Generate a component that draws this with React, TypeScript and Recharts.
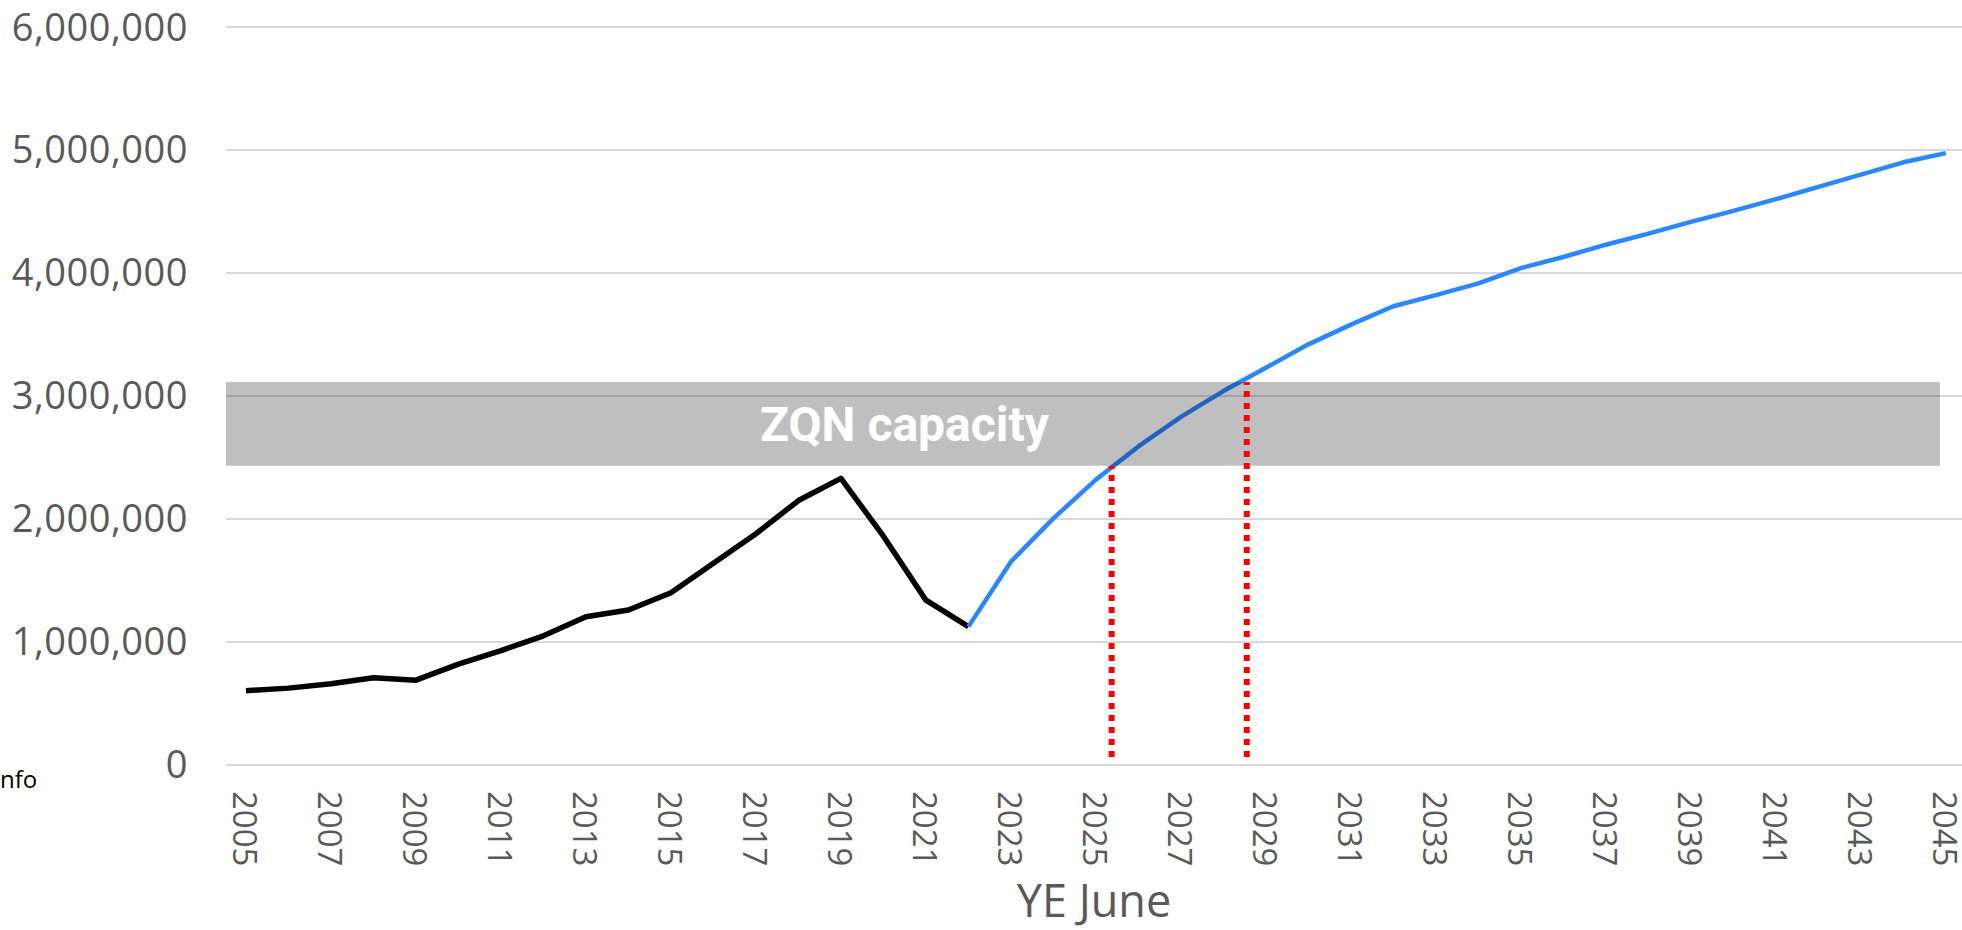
import { LineChart, Line, XAxis, YAxis, CartesianGrid, ReferenceArea, ReferenceLine } from 'recharts'

const years = [
  2005, 2006, 2007, 2008, 2009, 2010, 2011, 2012, 2013, 2014, 2015, 2016, 2017, 2018,
  2019, 2020, 2021, 2022, 2023, 2024, 2025, 2026, 2027, 2028, 2029, 2030, 2031, 2032,
  2033, 2034, 2035, 2036, 2037, 2038, 2039, 2040, 2041, 2042, 2043, 2044, 2045,
]

// 2005 - 2022
const actual = [
  604000, 625000, 660000, 710000, 690000, 820000, 930000, 1050000, 1205000, 1260000,
  1400000, 1640000, 1880000, 2150000, 2330000, 1860000, 1340000, 1125000,
]

// 2022 - 2045
const forecast = [
  1125000, 1653000, 2005000, 2320000, 2590000, 2830000, 3040000, 3230000, 3420000,
  3580000, 3730000, 3820000, 3915000, 4040000, 4130000, 4230000, 4320000, 4415000,
  4505000, 4600000, 4700000, 4800000, 4900000, 4975000,
]

const xTicks = [
  2005, 2007, 2009, 2011, 2013, 2015, 2017, 2019, 2021, 2023, 2025, 2027, 2029, 2031,
  2033, 2035, 2037, 2039, 2041, 2043, 2045,
]
const yTicks = [0, 1000000, 2000000, 3000000, 4000000, 5000000, 6000000]

const capacityLow = 2433000
const capacityHigh = 3114000
const capacityStart = 2025.37
const capacityEnd = 2028.55

const forecastStart = years.length - forecast.length

const data = years.map((year, i) => ({
  year,
  actual: i < actual.length ? actual[i] : null,
  forecast: i >= forecastStart ? forecast[i - forecastStart] : null,
}))

const fmt = (v: number) => v.toLocaleString('en-US')

function YearTick(props: any) {
  const { x, y, payload } = props
  return (
    <text
      x={x + 26}
      y={y}
      transform={`rotate(90, ${x}, ${y})`}
      textAnchor="start"
      dominantBaseline="central"
      fill="#595959"
      fontSize={33}
    >
      {payload.value}
    </text>
  )
}

export default function App() {
  return (
    <div style={{ position: 'absolute', left: 0, top: 0, fontFamily: '"Open Sans", sans-serif' }}>
      <LineChart
        width={1962}
        height={930}
        data={data}
        margin={{ top: 27, right: 0, bottom: 0, left: 0 }}
      >
        <CartesianGrid vertical={false} stroke="#d9d9d9" strokeWidth={2} />
        <XAxis
          dataKey="year"
          type="number"
          domain={[2004.53, 2045.38]}
          ticks={xTicks}
          allowDataOverflow
          axisLine={false}
          tickLine={false}
          tickSize={0}
          tickMargin={0}
          height={165}
          interval={0}
          tick={<YearTick />}
          label={{ value: 'YE June', position: 'insideBottom', offset: 13, fill: '#595959', fontSize: 45 }}
        />
        <YAxis
          domain={[0, 6000000]}
          ticks={yTicks}
          width={226}
          axisLine={false}
          tickLine={false}
          tickSize={0}
          tickMargin={38}
          tickFormatter={fmt}
          tick={{ fill: '#595959', fontSize: 38, letterSpacing: 0.5 }}
        />
        <Line
          dataKey="actual"
          type="linear"
          stroke="#000000"
          strokeWidth={5.5}
          dot={false}
          strokeLinejoin="round"
          isAnimationActive={false}
        />
        <Line
          dataKey="forecast"
          type="linear"
          stroke="#2b87ff"
          strokeWidth={4.5}
          dot={false}
          strokeLinejoin="round"
          isAnimationActive={false}
        />
        <ReferenceArea
          x1={2004.53}
          x2={2044.86}
          y1={capacityLow}
          y2={capacityHigh}
          fill="#000000"
          fillOpacity={0.25}
          stroke="none"
          zIndex={450}
          label={{
            value: 'ZQN capacity',
            position: 'insideLeft',
            offset: 534,
            fill: '#ffffff',
            fontSize: 48,
            fontWeight: 700,
            fontFamily: 'Roboto',
          }}
        />
        <ReferenceLine
          segment={[{ x: capacityStart, y: 65000 }, { x: capacityStart, y: capacityLow }]}
          stroke="#ff0000"
          strokeWidth={6}
          strokeDasharray="6 6"
          zIndex={460}
        />
        <ReferenceLine
          segment={[{ x: capacityEnd, y: 65000 }, { x: capacityEnd, y: capacityHigh }]}
          stroke="#ff0000"
          strokeWidth={6}
          strokeDasharray="6 6"
          zIndex={460}
        />
      </LineChart>
      <div
        style={{
          position: 'absolute',
          left: 0,
          top: 762,
          fontSize: 24,
          color: '#000',
          fontFamily: '"Open Sans", sans-serif',
        }}
      >
        nfo
      </div>
    </div>
  )
}
